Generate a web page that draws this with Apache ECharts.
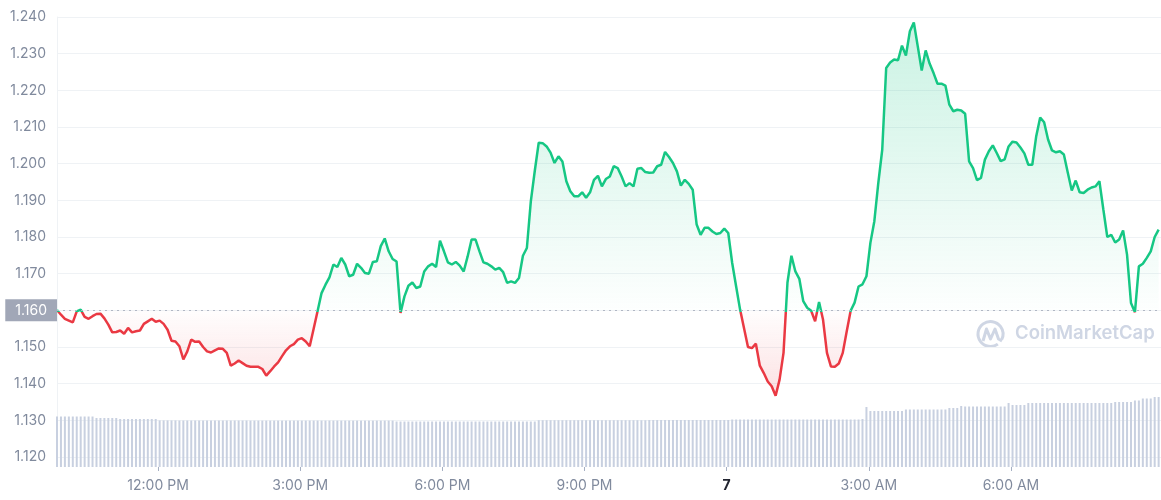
<!DOCTYPE html>
<html>
<head>
<meta charset="utf-8">
<title>Price chart</title>
<script src="https://cdn.jsdelivr.net/npm/echarts@6.0.0/dist/echarts.min.js"></script>
<style>
  html, body { margin: 0; padding: 0; background: #fff; }
  #chart { width: 1161px; height: 500px; }
</style>
</head>
<body>
<div id="chart"></div>
<script>
// 5 minute samples, first one at 9:52 AM
const START_MIN = 592;
const STEP_MIN = 5;
const BASE_PRICE = 1.16;

const prices = [
  1.1601, 1.1588, 1.1577, 1.1572, 1.1567, 1.1597, 1.1602, 1.1582, 1.1577, 1.1584,
  1.1590, 1.1591, 1.1578, 1.1561, 1.1540, 1.1541, 1.1545, 1.1536, 1.1552, 1.1540,
  1.1543, 1.1545, 1.1563, 1.1570, 1.1577, 1.1569, 1.1572, 1.1563, 1.1547, 1.1517,
  1.1515, 1.1502, 1.1466, 1.1488, 1.1520, 1.1514, 1.1515, 1.1500, 1.1488, 1.1485,
  1.1491, 1.1496, 1.1495, 1.1484, 1.1449, 1.1455, 1.1463, 1.1456, 1.1449, 1.1446,
  1.1446, 1.1446, 1.1440, 1.1422, 1.1434, 1.1447, 1.1458, 1.1475, 1.1491, 1.1502,
  1.1508, 1.1520, 1.1524, 1.1515, 1.1502, 1.1550, 1.1598, 1.1647, 1.1670, 1.1690,
  1.1725, 1.1718, 1.1743, 1.1725, 1.1693, 1.1697, 1.1727, 1.1716, 1.1702, 1.1700,
  1.1732, 1.1734, 1.1775, 1.1796, 1.1761, 1.1740, 1.1733, 1.1593, 1.1638, 1.1667,
  1.1676, 1.1661, 1.1665, 1.1706, 1.1720, 1.1727, 1.1718, 1.1790, 1.1761, 1.1731,
  1.1725, 1.1732, 1.1722, 1.1706, 1.1747, 1.1793, 1.1793, 1.1761, 1.1731, 1.1727,
  1.1720, 1.1711, 1.1716, 1.1704, 1.1675, 1.1679, 1.1675, 1.1688, 1.1749, 1.1770,
  1.1897, 1.1980, 1.2057, 1.2056, 1.2047, 1.2030, 1.2002, 1.2020, 1.2006, 1.1952,
  1.1925, 1.1911, 1.1911, 1.1922, 1.1907, 1.1922, 1.1956, 1.1967, 1.1938, 1.1958,
  1.1965, 1.1993, 1.1988, 1.1965, 1.1938, 1.1947, 1.1938, 1.1986, 1.1988, 1.1977,
  1.1975, 1.1976, 1.1993, 1.1997, 1.2032, 1.2018, 1.2002, 1.1979, 1.1940, 1.1956,
  1.1945, 1.1929, 1.1834, 1.1806, 1.1825, 1.1825, 1.1815, 1.1808, 1.1811, 1.1823,
  1.1811, 1.1729, 1.1665, 1.1602, 1.1551, 1.1500, 1.1497, 1.1509, 1.1449, 1.1429,
  1.1406, 1.1393, 1.1367, 1.1411, 1.1484, 1.1676, 1.1749, 1.1706, 1.1686, 1.1625,
  1.1607, 1.1599, 1.1570, 1.1623, 1.1575, 1.1484, 1.1447, 1.1446, 1.1455, 1.1484,
  1.1542, 1.1599, 1.1621, 1.1665, 1.1671, 1.1693, 1.1784, 1.1843, 1.1947, 1.2038,
  1.2261, 1.2276, 1.2284, 1.2282, 1.2322, 1.2295, 1.2361, 1.2385, 1.2320, 1.2254,
  1.2309, 1.2273, 1.2247, 1.2218, 1.2218, 1.2213, 1.2161, 1.2143, 1.2147, 1.2145,
  1.2136, 1.2006, 1.1988, 1.1955, 1.1961, 1.2011, 1.2034, 1.2050, 1.2029, 1.2007,
  1.2012, 1.2047, 1.2060, 1.2058, 1.2044, 1.2028, 1.1997, 1.1997, 1.2075, 1.2126,
  1.2113, 1.2066, 1.2036, 1.2031, 1.2034, 1.2025, 1.1975, 1.1927, 1.1954, 1.1922,
  1.1920, 1.1929, 1.1935, 1.1938, 1.1952, 1.1875, 1.1800, 1.1806, 1.1785, 1.1793,
  1.1818, 1.1752, 1.1620, 1.1595, 1.1720, 1.1727, 1.1743, 1.1761, 1.1800, 1.1820
];

// 24h volume, $M
const volumes = [
  505, 505, 505, 505, 505, 505, 505, 505, 505, 505, 490, 490, 490, 490, 490, 490, 480, 480, 480, 480,
  480, 480, 480, 480, 480, 480, 466, 466, 466, 466, 466, 465, 465, 465, 465, 465, 465, 465, 465, 465,
  465, 465, 465, 465, 465, 465, 465, 465, 465, 464, 464, 464, 464, 464, 464, 464, 464, 464, 464, 464,
  464, 464, 464, 464, 464, 464, 464, 464, 464, 464, 464, 464, 464, 464, 464, 464, 464, 464, 464, 464,
  464, 464, 464, 464, 464, 464, 455, 455, 455, 455, 455, 455, 455, 455, 455, 455, 455, 455, 455, 455,
  455, 455, 455, 455, 455, 455, 455, 455, 455, 455, 455, 455, 455, 455, 455, 455, 455, 455, 455, 455,
  455, 455, 468, 468, 468, 468, 468, 468, 468, 468, 468, 468, 468, 468, 468, 468, 468, 468, 468, 468,
  468, 468, 468, 468, 468, 468, 468, 468, 468, 468, 470, 470, 470, 470, 470, 470, 470, 470, 470, 470,
  470, 470, 470, 470, 470, 470, 470, 470, 470, 470, 470, 475, 475, 475, 475, 475, 475, 475, 475, 475,
  475, 475, 475, 475, 475, 475, 475, 475, 475, 475, 475, 475, 475, 475, 475, 475, 475, 475, 475, 475,
  475, 475, 475, 475, 480, 600, 560, 560, 560, 560, 560, 560, 560, 560, 560, 575, 575, 575, 575, 575,
  575, 575, 575, 575, 575, 575, 590, 590, 590, 610, 605, 605, 605, 605, 605, 605, 605, 605, 605, 605,
  605, 640, 620, 620, 620, 620, 640, 640, 640, 640, 640, 640, 640, 640, 640, 640, 640, 640, 640, 640,
  640, 640, 640, 640, 640, 640, 640, 640, 650, 650, 650, 650, 650, 665, 665, 685, 685, 685, 700, 700
];

// minutes from midnight of the first day
const xTickMinutes = [720, 900, 1080, 1260, 1440, 1620, 1800];
const xTickLabels = ["12:00 PM", "3:00 PM", "6:00 PM", "9:00 PM", "7", "3:00 AM", "6:00 AM"];

const X_MIN = START_MIN;
const X_MAX = 1990;

const UP = "#16c784";
const DOWN = "#ea3943";

var times = prices.map(function (p, i) { return START_MIN + i * STEP_MIN; });

// where the base price sits inside the line's own bounding box (0 = top)
var maxP = Math.max.apply(null, prices);
var minP = Math.min.apply(null, prices);
var basePos = (maxP - BASE_PRICE) / (maxP - minP);

var chartDom = document.getElementById("chart");
var myChart = echarts.init(chartDom);
var option;

option = {
  animation: false,
  textStyle: { fontFamily: "Inter, 'Noto Sans', sans-serif" },
  grid: [
    { left: 57, right: 0, top: 17, bottom: 43 },
    { left: 57, right: 0, top: 367, bottom: 33 }
  ],
  xAxis: [
    {
      type: "value",
      gridIndex: 0,
      min: X_MIN,
      max: X_MAX,
      show: false
    },
    {
      type: "value",
      gridIndex: 1,
      min: X_MIN,
      max: X_MAX,
      axisLine: { show: false },
      splitLine: { show: false },
      axisTick: {
        show: true,
        customValues: xTickMinutes,
        length: 4,
        lineStyle: { color: "#a6b0c3" }
      },
      axisLabel: {
        customValues: xTickMinutes,
        margin: 12,
        fontSize: 14,
        color: "#808a9d",
        formatter: function (v) {
          var idx = xTickMinutes.indexOf(v);
          var txt = idx >= 0 ? xTickLabels[idx] : "";
          return v === 1440 ? "{d|" + txt + "}" : txt;
        },
        rich: {
          d: { fontSize: 14, fontWeight: "bold", color: "#222531" }
        }
      }
    }
  ],
  yAxis: [
    {
      type: "value",
      gridIndex: 0,
      min: 1.12,
      max: 1.24,
      interval: 0.01,
      axisLine: { show: true, lineStyle: { color: "#eff2f5" } },
      axisTick: { show: false },
      splitLine: { lineStyle: { color: "#eff2f5" } },
      axisLabel: {
        margin: 11,
        fontSize: 14,
        color: "#808a9d",
        formatter: function (v) {
          if (Math.abs(v - BASE_PRICE) < 1e-6) return "";
          return v.toFixed(3);
        }
      }
    },
    {
      type: "value",
      gridIndex: 1,
      min: 0,
      max: 1000,
      show: false
    }
  ],
  graphic: [
    {
      type: "arc",
      z: 0,
      shape: { cx: 990.5, cy: 334, r: 12.5, startAngle: Math.PI * 0.3, endAngle: Math.PI * 0.15 },
      style: { fill: null, stroke: "#cfd6e4", lineWidth: 3 }
    },
    {
      type: "polyline",
      z: 0,
      shape: { points: [[983, 341], [986.5, 329], [990.5, 339], [995, 329], [998.5, 339], [1002, 341]] },
      style: { fill: null, stroke: "#cfd6e4", lineWidth: 3, lineJoin: "round" }
    },
    {
      type: "text",
      z: 0,
      left: 1015,
      top: 324,
      style: {
        text: "CoinMarketCap",
        font: "600 18.5px Inter",
        fill: "#cfd6e4"
      }
    }
  ],
  series: [
    {
      name: "Price",
      type: "line",
      xAxisIndex: 0,
      yAxisIndex: 0,
      z: 3,
      showSymbol: false,
      lineStyle: {
        width: 2.5,
        color: new echarts.graphic.LinearGradient(0, 0, 0, 1, [
          { offset: 0, color: UP },
          { offset: basePos, color: UP },
          { offset: basePos, color: DOWN },
          { offset: 1, color: DOWN }
        ])
      },
      areaStyle: {
        origin: BASE_PRICE,
        color: new echarts.graphic.LinearGradient(0, 0, 0, 1, [
          { offset: 0, color: "rgba(22,199,132,0.32)" },
          { offset: basePos, color: "rgba(22,199,132,0.01)" },
          { offset: basePos, color: "rgba(234,57,67,0.01)" },
          { offset: 1, color: "rgba(234,57,67,0.22)" }
        ])
      },
      data: times.map(function (t, i) { return [t, prices[i]]; }),
      markLine: {
        silent: true,
        symbol: ["none", "none"],
        lineStyle: { color: "#b1b7c4", type: [2, 4], width: 1 },
        label: {
          show: true,
          position: "start",
          distance: 0,
          formatter: "1.160",
          fontSize: 14,
          color: "#ffffff",
          backgroundColor: "#a1a7b7",
          padding: [4, 10, 4, 10]
        },
        data: [{ yAxis: BASE_PRICE }]
      }
    },
    {
      name: "Volume",
      type: "bar",
      xAxisIndex: 1,
      yAxisIndex: 1,
      z: 1,
      barWidth: 2,
      itemStyle: { color: "#c8d0e0" },
      data: times.map(function (t, i) { return [t, volumes[i]]; })
    }
  ]
};

option && myChart.setOption(option);
</script>
</body>
</html>
